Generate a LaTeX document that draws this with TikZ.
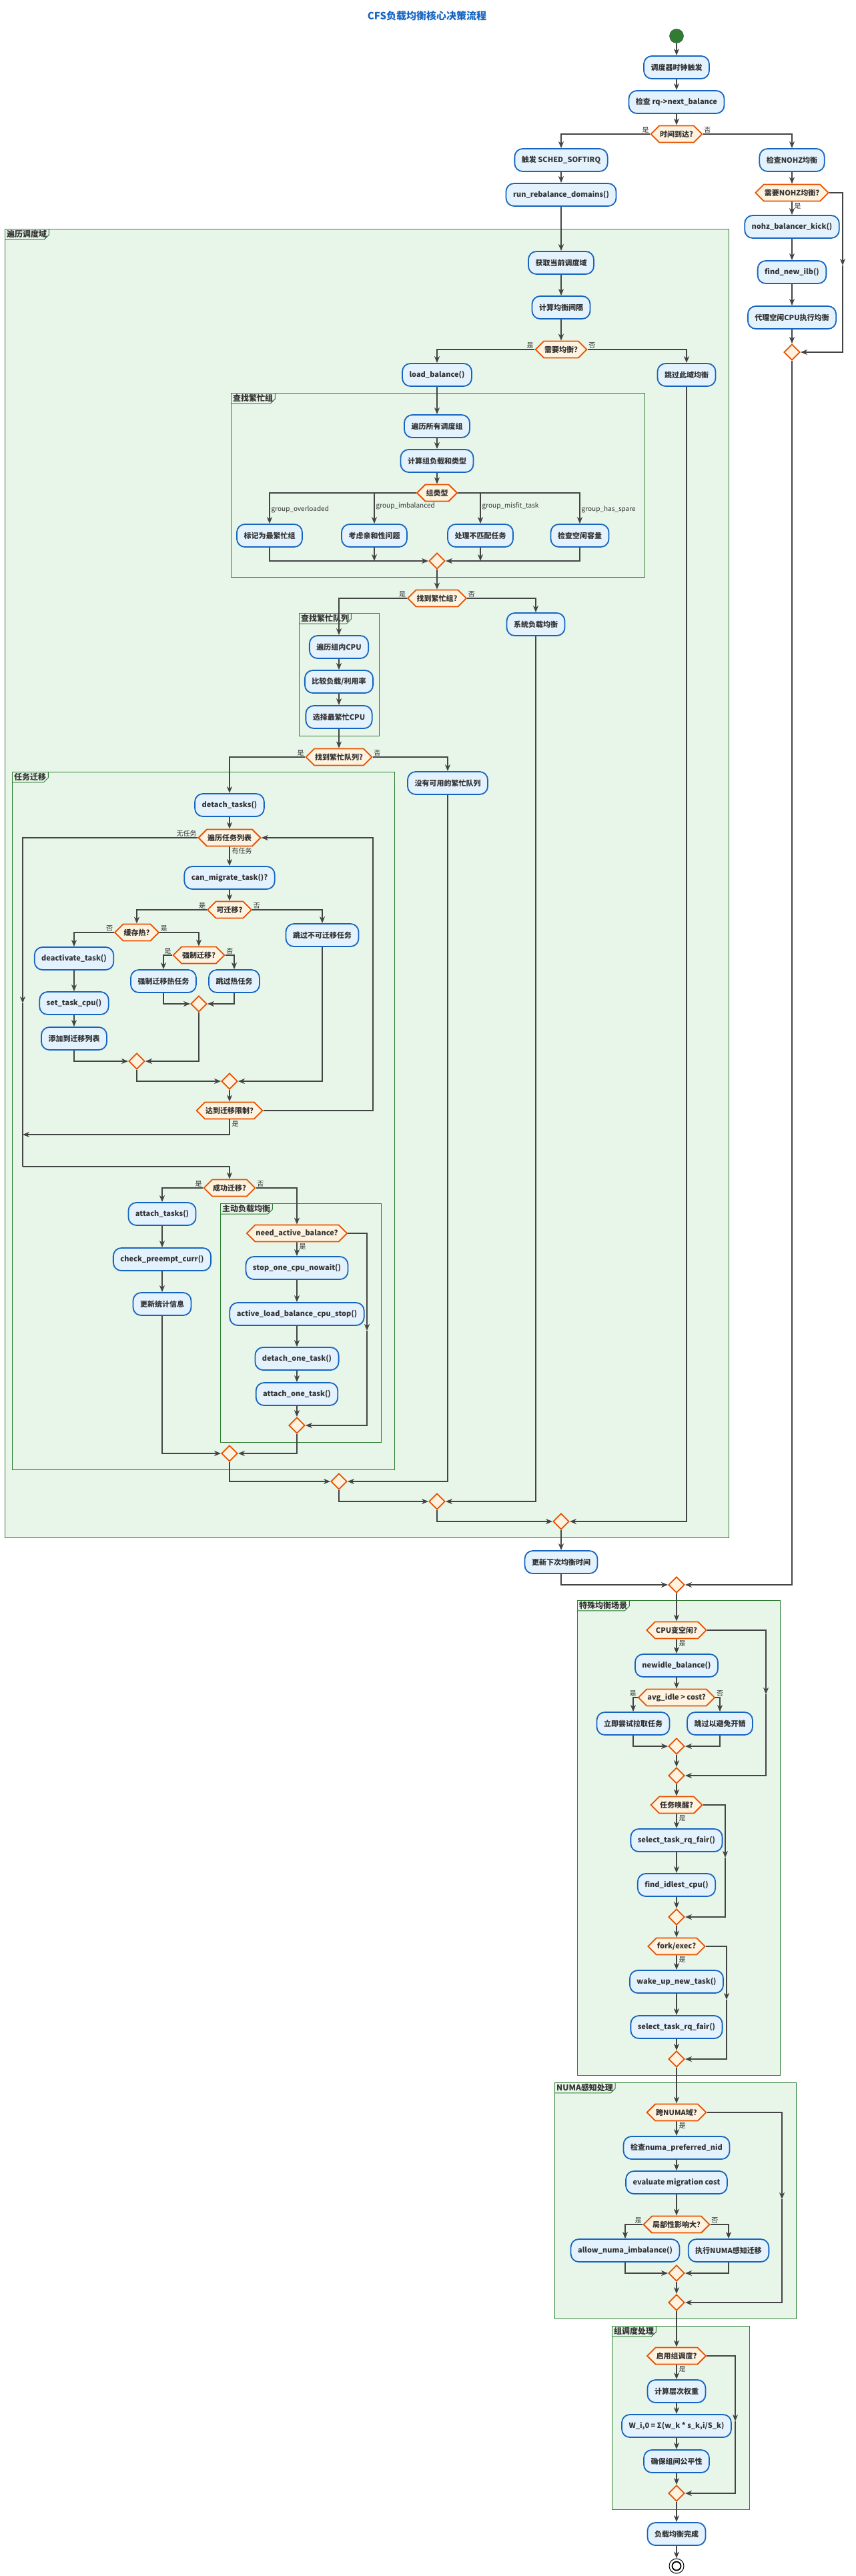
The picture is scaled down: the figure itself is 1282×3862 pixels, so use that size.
\documentclass[tikz,border=0pt]{standalone}
\usepackage{fontspec}
\setmainfont{Noto Sans CJK SC}
\usepackage{xcolor}
\usepackage{tikz}
\usetikzlibrary{arrows.meta,shapes.geometric,shapes.symbols}
\definecolor{ActBlue}{HTML}{1565C0}
\definecolor{ActFill}{HTML}{E3F2FD}
\definecolor{CondOrange}{HTML}{E65100}
\definecolor{CondFill}{HTML}{FFF3E0}
\definecolor{GrpGreen}{HTML}{2E7D32}
\definecolor{GrpFill}{HTML}{E8F5E9}
\definecolor{FlowGray}{HTML}{444444}
\definecolor{Ink}{HTML}{333333}

\begin{document}
\begin{tikzpicture}[x=1pt, y=-1pt, >={Stealth[length=10pt,width=8pt,inset=3pt]}]
  \tikzset{
    act/.style={draw=ActBlue, line width=1.8pt, fill=ActFill, rounded corners=12pt, minimum height=34pt, inner xsep=10.5pt, inner ysep=2pt, text=Ink, font=\fontsize{11}{13}\selectfont\bfseries},
    cond/.style={signal, signal to=east and west, draw=CondOrange, line width=1.8pt, fill=CondFill, minimum height=25pt, inner xsep=1pt, inner ysep=1pt, text=Ink, font=\fontsize{11}{13}\selectfont\bfseries},
    merge/.style={diamond, draw=CondOrange, line width=1.8pt, fill=CondFill, minimum width=24pt, minimum height=24pt, inner sep=0pt},
    flow/.style={->, draw=FlowGray, line width=1.6pt},
    wire/.style={draw=FlowGray, line width=1.6pt},
    lbl/.style={text=Ink, font=\fontsize{10}{12}\selectfont, inner sep=1.5pt},
    grp/.style={draw=GrpGreen, line width=1pt, fill=GrpFill},
    grptab/.style={draw=GrpGreen, line width=1pt},
    gtitle/.style={text=Ink, font=\fontsize{12}{14}\selectfont\bfseries, inner xsep=3pt, inner ysep=2pt}
  }
  \useasboundingbox (0,0) rectangle (1282,3862);

  % groups
  \draw[grp] (7,343) rectangle (1092,2305);
  \draw[grp] (346,589) rectangle (966,865);
  \draw[grp] (448,919) rectangle (568,1103);
  \draw[grp] (18,1157) rectangle (591,2203);
  \draw[grp] (330,1804) rectangle (571,2162);
  \draw[grp] (865,2399) rectangle (1169,3111);
  \draw[grp] (831,3122) rectangle (1193,3476);
  \draw[grp] (917,3487) rectangle (1123,3762);
  \node[gtitle, anchor=north west] (tDomains) at (7,343) {遍历调度域};
  \node[gtitle, anchor=north west] (tBusyGrp) at (346,589) {查找繁忙组};
  \node[gtitle, anchor=north west] (tBusyRq) at (448,919) {查找繁忙队列};
  \node[gtitle, anchor=north west] (tMigrate) at (18,1157) {任务迁移};
  \node[gtitle, anchor=north west] (tActive) at (330,1804) {主动负载均衡};
  \node[gtitle, anchor=north west] (tSpecial) at (865,2399) {特殊均衡场景};
  \node[gtitle, anchor=north west] (tNuma) at (831,3122) {NUMA感知处理};
  \node[gtitle, anchor=north west] (tGsched) at (917,3487) {组调度处理};
  \foreach \t in {tDomains,tBusyGrp,tBusyRq,tMigrate,tActive,tSpecial,tNuma,tGsched}
    \draw[grptab] (\t.north east) -- ([yshift=7pt]\t.south east) -- ([xshift=-7pt]\t.south east) -- (\t.south west);

  \node[text=ActBlue, font=\fontsize{15}{18}\selectfont\bfseries] (title) at (640,24) {CFS负载均衡核心决策流程};
  \node[circle, draw=black!80, fill=GrpGreen, minimum size=21pt, inner sep=0pt] (start) at (1014,54) {};

  % trigger
  \node[act] (tick) at (1014,101) {调度器时钟触发};
  \node[act] (chk) at (1014,153) {检查 rq->next\_balance};
  \node[cond] (due) at (1014,201) {时间到达?};
  \node[act] (softirq) at (841,240) {触发 SCHED\_SOFTIRQ};
  \node[act] (nohz) at (1187,240) {检查NOHZ均衡};
  \node[act] (rrd) at (841,292) {run\_rebalance\_domains()};
  \node[cond] (neednohz) at (1187,289) {需要NOHZ均衡?};
  \node[act] (kick) at (1187,340) {nohz\_balancer\_kick()};
  \node[act] (ilb) at (1187,408) {find\_new\_ilb()};
  \node[act] (proxy) at (1187,476) {代理空闲CPU执行均衡};
  \node[merge] (mNohz) at (1187,528) {};
  \coordinate (nohzMid) at (1263,398);

  % domains
  \node[act] (getsd) at (841,394) {获取当前调度域};
  \node[act] (intv) at (841,461) {计算均衡间隔};
  \node[cond] (needbal) at (841,524) {需要均衡?};
  \node[act] (lb) at (655,562) {load\_balance()};
  \node[act] (skipsd) at (1029,562) {跳过此域均衡};

  % busiest group
  \node[act] (allgrp) at (655,639) {遍历所有调度组};
  \node[act] (grpload) at (655,691) {计算组负载和类型};
  \node[cond] (gtype) at (655,739) {组类型};
  \node[act] (tOver) at (404,803) {标记为最繁忙组};
  \node[act] (tImb) at (561,803) {考虑亲和性问题};
  \node[act] (tMis) at (720,803) {处理不匹配任务};
  \node[act] (tSpare) at (869,803) {检查空闲容量};
  \node[merge] (mType) at (655,841) {};
  \node[cond] (foundgrp) at (655,897) {找到繁忙组?};
  \node[act] (sysbal) at (803,936) {系统负载均衡};

  % busiest queue
  \node[act] (cpus) at (508,970) {遍历组内CPU};
  \node[act] (cmp) at (508,1022) {比较负载/利用率};
  \node[act] (busiest) at (508,1075) {选择最繁忙CPU};
  \node[cond] (foundrq) at (508,1135) {找到繁忙队列?};
  \node[act] (norq) at (671,1174) {没有可用的繁忙队列};

  % migration
  \node[act] (detach) at (344,1207) {detach\_tasks()};
  \node[cond] (walk) at (344,1256) {遍历任务列表};
  \node[act] (canmig) at (344,1316) {can\_migrate\_task()?};
  \node[cond] (migok) at (344,1364) {可迁移?};
  \node[cond] (hot) at (205,1398) {缓存热?};
  \node[act] (skipmig) at (483,1402) {跳过不可迁移任务};
  \node[act] (deact) at (111,1437) {deactivate\_task()};
  \node[cond] (force) at (298,1432) {强制迁移?};
  \node[act] (forcehot) at (245,1471) {强制迁移热任务};
  \node[act] (skiphot) at (351,1471) {跳过热任务};
  \node[act] (setcpu) at (111,1504) {set\_task\_cpu()};
  \node[act] (addlist) at (111,1557) {添加到迁移列表};
  \node[merge] (mForce) at (298,1505) {};
  \node[merge] (mHot) at (205,1591) {};
  \node[merge] (mMig) at (344,1621) {};
  \node[cond] (limit) at (344,1665) {达到迁移限制?};
  \coordinate (loopR) at (559,1256);
  \coordinate (loopL) at (34,1504);
  \coordinate (joinL) at (34,1701);
  \coordinate (exitL) at (34,1749);
  \node[cond] (success) at (344,1781) {成功迁移?};
  \node[act] (attach) at (243,1820) {attach\_tasks()};
  \node[act] (preempt) at (243,1888) {check\_preempt\_curr()};
  \node[act] (stats) at (243,1955) {更新统计信息};

  % active balance
  \node[cond] (needact) at (445,1849) {need\_active\_balance?};
  \node[act] (stopcpu) at (445,1901) {stop\_one\_cpu\_nowait()};
  \node[act] (actstop) at (445,1970) {active\_load\_balance\_cpu\_stop()};
  \node[act] (detone) at (445,2037) {detach\_one\_task()};
  \node[act] (attone) at (445,2090) {attach\_one\_task()};
  \node[merge] (mAct) at (445,2137) {};
  \coordinate (actMid) at (550,1995);
  \node[merge] (mSucc) at (344,2179) {};
  \node[merge] (mRq) at (508,2221) {};
  \node[merge] (mGrp) at (655,2251) {};
  \node[merge] (mBal) at (841,2281) {};
  \node[act] (nexttime) at (841,2342) {更新下次均衡时间};
  \node[merge] (mTop) at (1014,2376) {};

  % special cases
  \node[cond] (idle) at (1014,2444) {CPU变空闲?};
  \node[act] (newidle) at (1014,2497) {newidle\_balance()};
  \node[cond] (cost) at (1014,2545) {avg\_idle > cost?};
  \node[act] (pull) at (949,2584) {立即尝试拉取任务};
  \node[act] (avoid) at (1079,2584) {跳过以避免开销};
  \node[merge] (mCost) at (1014,2618) {};
  \node[merge] (mIdle) at (1014,2662) {};
  \coordinate (idleMid) at (1148,2540);
  \node[cond] (wake) at (1014,2706) {任务唤醒?};
  \node[act] (selwake) at (1014,2759) {select\_task\_rq\_fair()};
  \node[act] (idlest) at (1014,2826) {find\_idlest\_cpu()};
  \node[merge] (mWake) at (1014,2874) {};
  \coordinate (wakeMid) at (1087,2785);
  \node[cond] (fork) at (1014,2918) {fork/exec?};
  \node[act] (wakenew) at (1014,2971) {wake\_up\_new\_task()};
  \node[act] (selfork) at (1014,3039) {select\_task\_rq\_fair()};
  \node[merge] (mFork) at (1014,3087) {};
  \coordinate (forkMid) at (1089,2998);

  % numa
  \node[cond] (numa) at (1014,3167) {跨NUMA域?};
  \node[act] (prefnid) at (1014,3220) {检查numa\_preferred\_nid};
  \node[act] (evalc) at (1014,3272) {evaluate migration cost};
  \node[cond] (local) at (1014,3335) {局部性影响大?};
  \node[act] (allowimb) at (937,3374) {allow\_numa\_imbalance()};
  \node[act] (numamig) at (1092,3374) {执行NUMA感知迁移};
  \node[merge] (mLocal) at (1014,3408) {};
  \node[merge] (mNuma) at (1014,3452) {};
  \coordinate (numaMid) at (1172,3297);

  % group scheduling
  \node[cond] (grpsched) at (1014,3532) {启用组调度?};
  \node[act] (hweight) at (1014,3585) {计算层次权重};
  \node[act] (formula) at (1014,3637) {W\_i,0 = Σ(w\_k * s\_k,i/S\_k)};
  \node[act] (fair) at (1014,3690) {确保组间公平性};
  \node[merge] (mGs) at (1014,3738) {};
  \coordinate (gsMid) at (1102,3630);
  \node[act] (done) at (1014,3799) {负载均衡完成};
  \node[circle, draw=black, line width=1pt, minimum size=22pt, inner sep=0pt,
        path picture={\draw[line width=1.8pt] (path picture bounding box.center) circle (6.5pt);}] (stop) at (1014,3847) {};

  % labels
  \node[lbl, anchor=south east] (yDue) at (due.west) {是};
  \node[lbl, anchor=south west] (nDue) at (due.east) {否};
  \node[lbl, anchor=north west] (yNohz) at ([xshift=2pt]neednohz.south) {是};
  \node[lbl, anchor=south east] (yBal) at (needbal.west) {是};
  \node[lbl, anchor=south west] (nBal) at (needbal.east) {否};
  \node[lbl, anchor=west] (lOver) at (405,764) {group\_overloaded};
  \node[lbl, anchor=west] (lImb) at (562,759) {group\_imbalanced};
  \node[lbl, anchor=west] (lMis) at (721,759) {group\_misfit\_task};
  \node[lbl, anchor=west] (lSpare) at (870,764) {group\_has\_spare};
  \node[lbl, anchor=south east] (yGrp) at (foundgrp.west) {是};
  \node[lbl, anchor=south west] (nGrp) at (foundgrp.east) {否};
  \node[lbl, anchor=south east] (yRq) at (foundrq.west) {是};
  \node[lbl, anchor=south west] (nRq) at (foundrq.east) {否};
  \node[lbl, anchor=south east] (noTask) at (walk.west) {无任务};
  \node[lbl, anchor=north west] (hasTask) at ([xshift=2pt]walk.south) {有任务};
  \node[lbl, anchor=south east] (yMig) at (migok.west) {是};
  \node[lbl, anchor=south west] (nMig) at (migok.east) {否};
  \node[lbl, anchor=south east] (nHot) at (hot.west) {否};
  \node[lbl, anchor=south west] (yHot) at (hot.east) {是};
  \node[lbl, anchor=south east] (yForce) at (force.west) {是};
  \node[lbl, anchor=south west] (nForce) at (force.east) {否};
  \node[lbl, anchor=north west] (yLimit) at ([xshift=2pt]limit.south) {是};
  \node[lbl, anchor=south east] (ySucc) at (success.west) {是};
  \node[lbl, anchor=south west] (nSucc) at (success.east) {否};
  \node[lbl, anchor=north west] (yAct) at ([xshift=2pt]needact.south) {是};
  \node[lbl, anchor=north west] (yIdle) at ([xshift=2pt]idle.south) {是};
  \node[lbl, anchor=south east] (yCost) at (cost.west) {是};
  \node[lbl, anchor=south west] (nCost) at (cost.east) {否};
  \node[lbl, anchor=north west] (yWake) at ([xshift=2pt]wake.south) {是};
  \node[lbl, anchor=north west] (yFork) at ([xshift=2pt]fork.south) {是};
  \node[lbl, anchor=north west] (yNuma) at ([xshift=2pt]numa.south) {是};
  \node[lbl, anchor=south east] (yLocal) at (local.west) {是};
  \node[lbl, anchor=south west] (nLocal) at (local.east) {否};
  \node[lbl, anchor=north west] (yGs) at ([xshift=2pt]grpsched.south) {是};

  % connectors
  \draw[flow] (start) -- (tick);
  \draw[flow] (tick) -- (chk);
  \draw[flow] (chk) -- (due);
  \draw[flow] (due.west) -| (softirq.north);
  \draw[flow] (due.east) -| (nohz.north);
  \draw[flow] (softirq) -- (rrd);
  \draw[flow] (nohz) -- (neednohz);
  \draw[flow] (neednohz) -- (kick);
  \draw[flow] (kick) -- (ilb);
  \draw[flow] (ilb) -- (proxy);
  \draw[flow] (proxy) -- (mNohz);
  \draw[flow] (neednohz.east) -| (nohzMid);
  \draw[flow] (nohzMid) |- (mNohz.east);
  \draw[flow] (mNohz.south) |- (mTop.east);

  \draw[flow] (rrd) -- (getsd);
  \draw[flow] (getsd) -- (intv);
  \draw[flow] (intv) -- (needbal);
  \draw[flow] (needbal.west) -| (lb.north);
  \draw[flow] (needbal.east) -| (skipsd.north);
  \draw[flow] (lb) -- (allgrp);
  \draw[flow] (allgrp) -- (grpload);
  \draw[flow] (grpload) -- (gtype);
  \draw[flow] (gtype.west) -| (tOver.north);
  \draw[flow] (gtype.west) -| (tImb.north);
  \draw[flow] (gtype.east) -| (tMis.north);
  \draw[flow] (gtype.east) -| (tSpare.north);
  \draw[flow] (tOver.south) |- (mType.west);
  \draw[flow] (tSpare.south) |- (mType.east);
  \draw[flow] (tImb.south) -- (tImb.south |- mType);
  \draw[flow] (tMis.south) -- (tMis.south |- mType);
  \draw[flow] (mType) -- (foundgrp);
  \draw[flow] (foundgrp.west) -| (cpus.north);
  \draw[flow] (foundgrp.east) -| (sysbal.north);
  \draw[flow] (cpus) -- (cmp);
  \draw[flow] (cmp) -- (busiest);
  \draw[flow] (busiest) -- (foundrq);
  \draw[flow] (foundrq.west) -| (detach.north);
  \draw[flow] (foundrq.east) -| (norq.north);

  \draw[flow] (detach) -- (walk);
  \draw[flow] (walk) -- (canmig);
  \draw[flow] (canmig) -- (migok);
  \draw[flow] (migok.west) -| (hot.north);
  \draw[flow] (migok.east) -| (skipmig.north);
  \draw[flow] (hot.west) -| (deact.north);
  \draw[flow] (hot.east) -| (force.north);
  \draw[flow] (deact) -- (setcpu);
  \draw[flow] (setcpu) -- (addlist);
  \draw[flow] (force.west) -| (forcehot.north);
  \draw[flow] (force.east) -| (skiphot.north);
  \draw[flow] (forcehot.south) |- (mForce.west);
  \draw[flow] (skiphot.south) |- (mForce.east);
  \draw[flow] (addlist.south) |- (mHot.west);
  \draw[flow] (mForce.south) |- (mHot.east);
  \draw[flow] (mHot.south) |- (mMig.west);
  \draw[flow] (skipmig.south) |- (mMig.east);
  \draw[flow] (mMig) -- (limit);
  \draw[flow] (limit.east) -| (loopR) -- (walk.east);
  \draw[flow] (walk.west) -| (loopL);
  \draw[wire] (loopL) -- (exitL);
  \draw[flow] (limit.south) |- (joinL);
  \draw[flow] (exitL) -| (success.north);
  \draw[flow] (success.west) -| (attach.north);
  \draw[flow] (success.east) -| (needact.north);
  \draw[flow] (attach) -- (preempt);
  \draw[flow] (preempt) -- (stats);
  \draw[flow] (needact) -- (stopcpu);
  \draw[flow] (stopcpu) -- (actstop);
  \draw[flow] (actstop) -- (detone);
  \draw[flow] (detone) -- (attone);
  \draw[flow] (attone) -- (mAct);
  \draw[flow] (needact.east) -| (actMid);
  \draw[flow] (actMid) |- (mAct.east);
  \draw[flow] (stats.south) |- (mSucc.west);
  \draw[flow] (mAct.south) |- (mSucc.east);
  \draw[flow] (mSucc.south) |- (mRq.west);
  \draw[flow] (norq.south) |- (mRq.east);
  \draw[flow] (mRq.south) |- (mGrp.west);
  \draw[flow] (sysbal.south) |- (mGrp.east);
  \draw[flow] (mGrp.south) |- (mBal.west);
  \draw[flow] (skipsd.south) |- (mBal.east);
  \draw[flow] (mBal) -- (nexttime);
  \draw[flow] (nexttime.south) |- (mTop.west);

  \draw[flow] (mTop) -- (idle);
  \draw[flow] (idle) -- (newidle);
  \draw[flow] (idle.east) -| (idleMid);
  \draw[flow] (idleMid) |- (mIdle.east);
  \draw[flow] (newidle) -- (cost);
  \draw[flow] (cost.west) -| (pull.north);
  \draw[flow] (cost.east) -| (avoid.north);
  \draw[flow] (pull.south) |- (mCost.west);
  \draw[flow] (avoid.south) |- (mCost.east);
  \draw[flow] (mCost) -- (mIdle);
  \draw[flow] (mIdle) -- (wake);
  \draw[flow] (wake) -- (selwake);
  \draw[flow] (wake.east) -| (wakeMid);
  \draw[flow] (wakeMid) |- (mWake.east);
  \draw[flow] (selwake) -- (idlest);
  \draw[flow] (idlest) -- (mWake);
  \draw[flow] (mWake) -- (fork);
  \draw[flow] (fork) -- (wakenew);
  \draw[flow] (fork.east) -| (forkMid);
  \draw[flow] (forkMid) |- (mFork.east);
  \draw[flow] (wakenew) -- (selfork);
  \draw[flow] (selfork) -- (mFork);
  \draw[flow] (mFork) -- (numa);

  \draw[flow] (numa) -- (prefnid);
  \draw[flow] (numa.east) -| (numaMid);
  \draw[flow] (numaMid) |- (mNuma.east);
  \draw[flow] (prefnid) -- (evalc);
  \draw[flow] (evalc) -- (local);
  \draw[flow] (local.west) -| (allowimb.north);
  \draw[flow] (local.east) -| (numamig.north);
  \draw[flow] (allowimb.south) |- (mLocal.west);
  \draw[flow] (numamig.south) |- (mLocal.east);
  \draw[flow] (mLocal) -- (mNuma);
  \draw[flow] (mNuma) -- (grpsched);

  \draw[flow] (grpsched) -- (hweight);
  \draw[flow] (grpsched.east) -| (gsMid);
  \draw[flow] (gsMid) |- (mGs.east);
  \draw[flow] (hweight) -- (formula);
  \draw[flow] (formula) -- (fair);
  \draw[flow] (fair) -- (mGs);
  \draw[flow] (mGs) -- (done);
  \draw[flow] (done) -- (stop);
\end{tikzpicture}
\end{document}
